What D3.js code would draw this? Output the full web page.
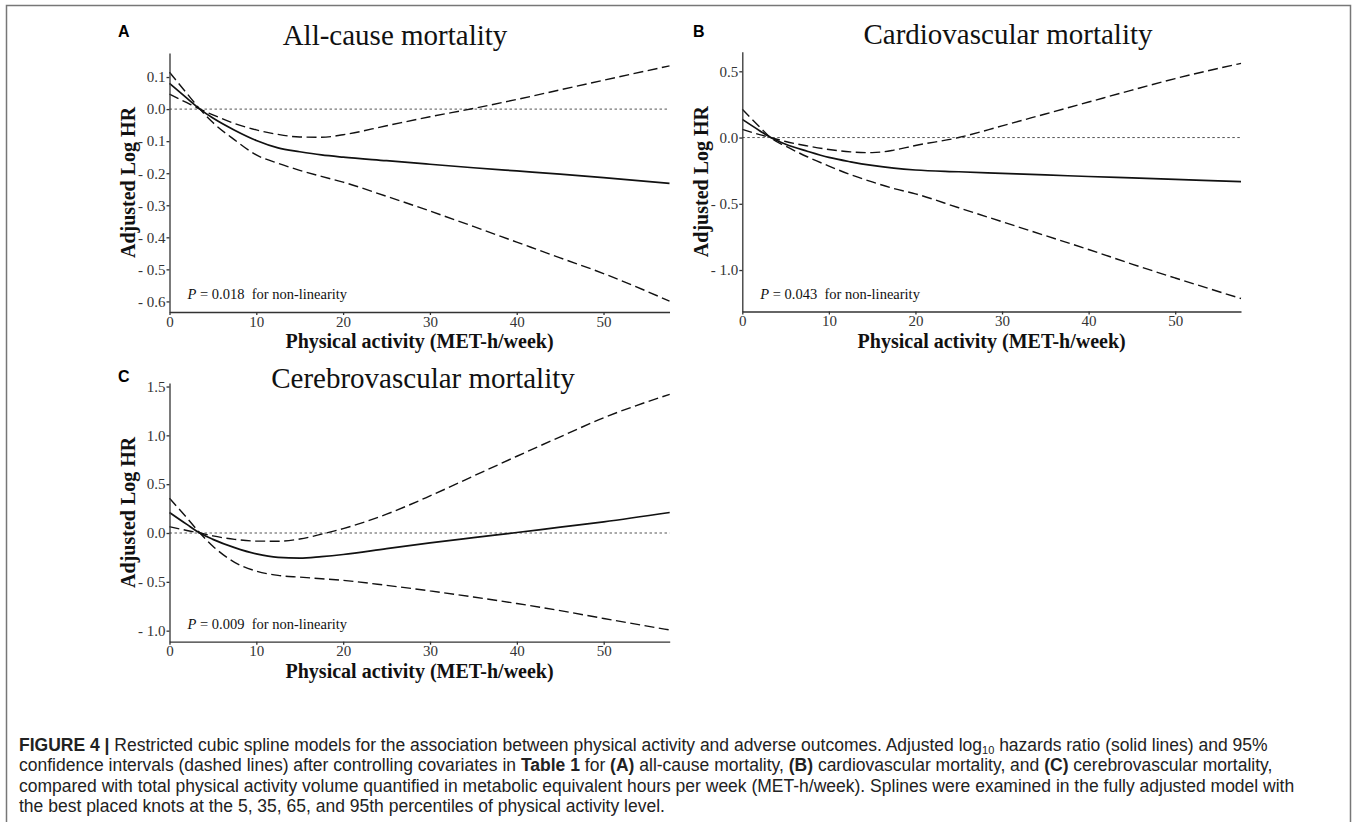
<!DOCTYPE html>
<html>
<head>
<meta charset="utf-8">
<title>Restricted cubic spline models</title>
<script src="https://cdn.jsdelivr.net/npm/d3@7/dist/d3.min.js"></script>
<style>
  body { margin: 0; background: #fff; }
  .serif { font-family: "Liberation Serif", "Times New Roman", serif; }
  .tick text { font-family: "Liberation Serif", "Times New Roman", serif; font-size: 15px; fill: #333; }
  .tick line, .domain { stroke: #333; stroke-width: 1.3px; }
  .letter { font-family: "Liberation Sans", Arial, sans-serif; font-weight: bold; font-size: 16px; }
  .caption { font-family: "Liberation Sans", Arial, sans-serif; font-size: 17.5px; fill: #222; }
</style>
</head>
<body>
<svg id="fig" width="1357" height="822"></svg>
<script>
var metHours = [0, 2, 3.5, 5, 7.5, 10, 12.5, 15, 17.5, 20, 25, 30, 35, 40, 45, 50, 57.6];

// A: all-cause
var allFit = [0.080, 0.034, 0, -0.028, -0.066, -0.098, -0.121, -0.133, -0.143, -0.150, -0.161, -0.172, -0.183, -0.193, -0.203, -0.214, -0.232];
var allCiA = [0.115, 0.049, 0, -0.042, -0.096, -0.143, -0.169, -0.191, -0.210, -0.228, -0.272, -0.318, -0.366, -0.415, -0.464, -0.513, -0.599];
var allCiB = [0.047, 0.020, 0, -0.018, -0.045, -0.065, -0.079, -0.087, -0.088, -0.080, -0.052, -0.024, 0.002, 0.030, 0.060, 0.090, 0.135];

// B: cardiovascular
var cvdFit = [0.137, 0.052, -0.008, -0.050, -0.103, -0.150, -0.183, -0.210, -0.231, -0.245, -0.258, -0.270, -0.282, -0.294, -0.305, -0.316, -0.333];
var cvdCiA = [0.213, 0.080, -0.012, -0.065, -0.145, -0.215, -0.280, -0.335, -0.385, -0.425, -0.530, -0.635, -0.740, -0.845, -0.955, -1.060, -1.215];
var cvdCiB = [0.062, 0.022, -0.004, -0.030, -0.063, -0.090, -0.108, -0.114, -0.095, -0.060, 0.000, 0.088, 0.178, 0.268, 0.358, 0.445, 0.560];

// C: cerebrovascular
var cbvFit = [0.210, 0.088, 0, -0.065, -0.150, -0.214, -0.250, -0.258, -0.242, -0.220, -0.160, -0.102, -0.048, 0.005, 0.060, 0.114, 0.210];
var cbvCiA = [0.356, 0.155, 0, -0.135, -0.300, -0.390, -0.434, -0.452, -0.468, -0.485, -0.536, -0.593, -0.655, -0.722, -0.795, -0.875, -0.993];
var cbvCiB = [0.064, 0.026, 0, -0.030, -0.065, -0.083, -0.084, -0.062, -0.012, 0.045, 0.193, 0.380, 0.583, 0.786, 0.985, 1.180, 1.420];

var xTicks = [0, 10, 20, 30, 40, 50];
var yTicksA = [0.1, 0, -0.1, -0.2, -0.3, -0.4, -0.5, -0.6];
var yTicksB = [0.5, 0, -0.5, -1.0];
var yTicksC = [1.5, 1.0, 0.5, 0, -0.5, -1.0];

var titles = ["All-cause mortality", "Cardiovascular mortality", "Cerebrovascular mortality"];
var letters = ["A", "B", "C"];
var pValues = ["0.018", "0.043", "0.009"];
var xTitle = "Physical activity (MET-h/week)";
var yTitle = "Adjusted Log HR";

var captionLines = [
  [["FIGURE 4 | ", "b"], ["Restricted cubic spline models for the association between physical activity and adverse outcomes. Adjusted log", ""], ["10", "sub"], [" hazards ratio (solid lines) and 95%", "up"]],
  [["confidence intervals (dashed lines) after controlling covariates in ", ""], ["Table 1", "b"], [" for ", ""], ["(A)", "b"], [" all-cause mortality, ", ""], ["(B)", "b"], [" cardiovascular mortality, and ", ""], ["(C)", "b"], [" cerebrovascular mortality,", ""]],
  [["compared with total physical activity volume quantified in metabolic equivalent hours per week (MET-h/week). Splines were examined in the fully adjusted model with", ""]],
  [["the best placed knots at the 5, 35, 65, and 95th percentiles of physical activity level.", ""]]
];

var svg = d3.select("#fig");

// frame around the figure
svg.append("path")
  .attr("d", "M6.5,822V5.5H1350.5V822")
  .attr("fill", "none")
  .attr("stroke", "#777")
  .attr("stroke-width", 1.5);

var panels = [
  { fit: allFit, ciA: allCiA, ciB: allCiB, yTicks: yTicksA, yDom: [-0.633, 0.175],
    left: 169.5, right: 669.5, top: 53, bottom: 312, titleX: 395, titleY: 45, letterX: 118, letterY: 37 },
  { fit: cvdFit, ciA: cvdCiA, ciB: cvdCiB, yTicks: yTicksB, yDom: [-1.313, 0.648],
    left: 742.3, right: 1241, top: 51.7, bottom: 311.5, titleX: 1008, titleY: 44, letterX: 693, letterY: 37 },
  { fit: cbvFit, ciA: cbvCiA, ciB: cbvCiB, yTicks: yTicksC, yDom: [-1.113, 1.536],
    left: 169.5, right: 669.7, top: 383, bottom: 641.7, titleX: 423, titleY: 388, letterX: 118, letterY: 382 }
];

function fmt(v) {
  var s = Math.abs(v).toFixed(1);
  return v < -1e-9 ? "- " + s : s;
}

panels.forEach(function(p, i) {
  var x = d3.scaleLinear().domain([0, 57.6]).range([p.left, p.right]);
  var y = d3.scaleLinear().domain(p.yDom).range([p.bottom, p.top]);
  var g = svg.append("g");

  // zero reference
  g.append("line")
    .attr("x1", x(0)).attr("x2", x(57.6))
    .attr("y1", y(0)).attr("y2", y(0))
    .attr("stroke", "#555")
    .attr("stroke-width", 1)
    .attr("stroke-dasharray", "2.5,2.5");

  var line = d3.line()
    .x(function(d) { return x(d[0]); })
    .y(function(d) { return y(d[1]); })
    .curve(d3.curveMonotoneX);

  [p.ciA, p.ciB].forEach(function(ci) {
    g.append("path")
      .attr("d", line(d3.zip(metHours, ci)))
      .attr("fill", "none")
      .attr("stroke", "#111")
      .attr("stroke-width", 1.4)
      .attr("stroke-dasharray", "10,4.5");
  });

  g.append("path")
    .attr("d", line(d3.zip(metHours, p.fit)))
    .attr("fill", "none")
    .attr("stroke", "#111")
    .attr("stroke-width", 1.7);

  // axes
  g.append("g")
    .attr("transform", "translate(0," + p.bottom + ")")
    .call(d3.axisBottom(x).tickValues(xTicks).tickSize(3).tickSizeOuter(0).tickPadding(1));

  g.append("g")
    .attr("transform", "translate(" + p.left + ",0)")
    .call(d3.axisLeft(y).tickValues(p.yTicks).tickFormat(fmt).tickSize(3).tickSizeOuter(0).tickPadding(1));

  g.selectAll(".domain").attr("stroke", "#333").attr("stroke-width", 1.5);

  // labels
  g.append("text")
    .attr("class", "letter")
    .attr("x", p.letterX).attr("y", p.letterY)
    .text(letters[i]);

  g.append("text")
    .attr("class", "serif")
    .attr("x", p.titleX).attr("y", p.titleY)
    .attr("text-anchor", "middle")
    .attr("font-size", 29)
    .attr("fill", "#111")
    .text(titles[i]);

  g.append("text")
    .attr("class", "serif")
    .attr("x", (p.left + p.right) / 2).attr("y", p.bottom + 36)
    .attr("text-anchor", "middle")
    .attr("font-size", 20)
    .attr("font-weight", "bold")
    .attr("fill", "#111")
    .text(xTitle);

  g.append("text")
    .attr("class", "serif")
    .attr("transform", "translate(" + (p.left - 41.5) + "," + ((p.top + p.bottom) / 2) + ") rotate(-90)")
    .attr("text-anchor", "middle")
    .attr("dy", "0.35em")
    .attr("font-size", 20)
    .attr("font-weight", "bold")
    .attr("fill", "#111")
    .text(yTitle);

  var pt = g.append("text")
    .attr("class", "serif")
    .attr("x", p.left + 18).attr("y", p.bottom - 13)
    .attr("font-size", 14.5)
    .attr("fill", "#111")
    .attr("xml:space", "preserve");
  pt.append("tspan").attr("font-style", "italic").text("P");
  pt.append("tspan").text(" = " + pValues[i] + "  for non-linearity");
});

// caption
var capY = [751, 771.3, 791.6, 812];
captionLines.forEach(function(parts, li) {
  var t = svg.append("text")
    .attr("class", "caption")
    .attr("x", 19)
    .attr("y", capY[li])
    .attr("xml:space", "preserve");
  parts.forEach(function(part) {
    var s = t.append("tspan").text(part[0]);
    if (part[1] === "b") s.attr("font-weight", "bold");
    if (part[1] === "sub") s.attr("font-size", 11).attr("dy", 2.5);
    if (part[1] === "up") s.attr("dy", -2.5);
  });
});
</script>
</body>
</html>
